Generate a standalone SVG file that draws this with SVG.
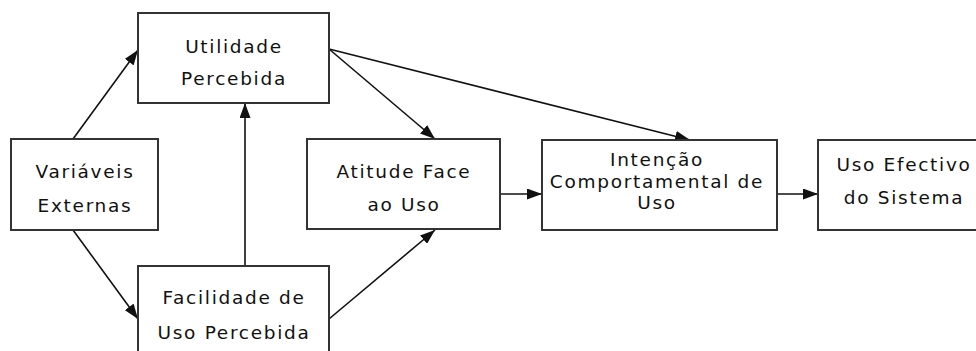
<svg xmlns="http://www.w3.org/2000/svg" width="976" height="351" viewBox="0 0 976 351">
  <style>
    .box { fill: #ffffff; stroke: #333333; stroke-width: 2; }
    .lbl { font-family: "DejaVu Sans", Verdana, sans-serif; font-size: 18.5px; letter-spacing: 1.7px; fill: #111111; text-anchor: middle; }
    .edge { stroke: #111111; stroke-width: 1.6; fill: none; marker-end: url(#head); }
  </style>
  <defs>
    <marker id="head" viewBox="0 0 15 11" refX="15" refY="5.5" markerWidth="15" markerHeight="11" markerUnits="userSpaceOnUse" orient="auto">
      <path d="M0,0 L15,5.5 L0,11 Z" fill="#111111"/>
    </marker>
  </defs>
  <rect width="976" height="351" fill="#ffffff"/>

  <g id="connectors">
    <line class="edge" x1="73" y1="139" x2="138" y2="50"/>
    <line class="edge" x1="73" y1="230" x2="138" y2="319"/>
    <line class="edge" x1="245" y1="266" x2="245" y2="103"/>
    <line class="edge" x1="329" y1="319" x2="435" y2="230"/>
    <line class="edge" x1="329" y1="49" x2="435" y2="139"/>
    <line class="edge" x1="329" y1="49" x2="690" y2="140"/>
    <line class="edge" x1="500" y1="194" x2="542" y2="194"/>
    <line class="edge" x1="777" y1="194" x2="818" y2="194"/>
  </g>

  <g id="variaveis-externas">
    <rect class="box" x="11" y="139" width="147" height="91"/>
    <text class="lbl" x="85" y="178">Variáveis</text>
    <text class="lbl" x="85" y="212">Externas</text>
  </g>

  <g id="utilidade-percebida">
    <rect class="box" x="138" y="13" width="191" height="90"/>
    <text class="lbl" x="234" y="53">Utilidade</text>
    <text class="lbl" x="234" y="85">Percebida</text>
  </g>

  <g id="facilidade-uso">
    <rect class="box" x="138" y="266" width="191" height="100"/>
    <text class="lbl" x="234" y="304">Facilidade de</text>
    <text class="lbl" x="234" y="339">Uso Percebida</text>
  </g>

  <g id="atitude-uso">
    <rect class="box" x="307" y="139" width="193" height="90"/>
    <text class="lbl" x="404" y="178">Atitude Face</text>
    <text class="lbl" x="404" y="211">ao Uso</text>
  </g>

  <g id="intencao-comportamental">
    <rect class="box" x="542" y="140" width="235" height="90"/>
    <text class="lbl" x="657" y="166">Intenção</text>
    <text class="lbl" x="657" y="188">Comportamental de</text>
    <text class="lbl" x="657" y="209">Uso</text>
  </g>

  <g id="uso-efectivo">
    <rect class="box" x="818" y="140" width="172" height="90"/>
    <text class="lbl" x="904" y="171">Uso Efectivo</text>
    <text class="lbl" x="904" y="204">do Sistema</text>
  </g>
</svg>
